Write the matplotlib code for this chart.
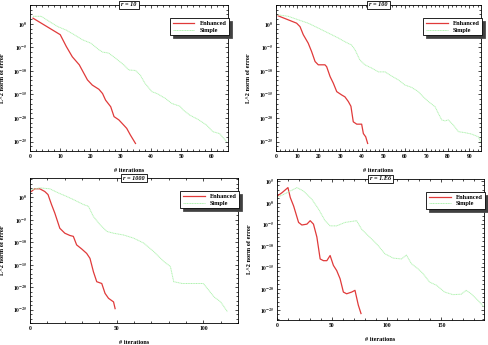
import matplotlib
matplotlib.use('Agg')
import matplotlib.pyplot as plt
import numpy as np

plt.rcParams['font.family'] = ['Liberation Serif', 'DejaVu Serif']
plt.rcParams['font.weight'] = 'bold'
plt.rcParams['mathtext.fontset'] = 'stix'
plt.rcParams['mathtext.default'] = 'bf'

### Data (x = iteration, y = log10 of L^2 error)

titles = ['r = 10', 'r = 100', 'r = 1000', 'r = 1.E6']

enh_x_10 = [1, 6.4, 10, 12, 14, 16.3, 19, 20.6, 22.8, 24, 25, 26.7, 27.8, 29.4, 31, 32, 33.2, 34.9]
enh_y_10 = [1.2, -0.9, -2.3, -4.8, -7, -8.7, -11.9, -13, -13.9, -14.8, -16.2, -17.6, -19.7, -20.4, -21.5, -22.2, -23.6, -25.4]
sim_x_10 = [1, 3.7, 6.4, 9.2, 11.9, 14.6, 17.4, 20.1, 22.8, 24, 26, 28.3, 31, 32.7, 34.9, 36.5, 38, 40.3,
            42, 44.7, 46.9, 49.6, 50.7, 52.9, 55.6, 58.4, 60.5, 62.7, 65]
sim_y_10 = [1.6, 1.6, 0.5, -0.6, -1.3, -2.3, -3.4, -4.1, -5.5, -6, -6.2, -7.3, -8.7, -9.8, -9.9, -10.9, -12.6, -14.4,
            -14.8, -15.8, -16.9, -17.5, -18.3, -19.4, -20.3, -21.5, -22.9, -23.3, -25]

enh_x_100 = [1, 5.7, 9.6, 11.2, 12.7, 15, 16.6, 18.2, 19.7, 22.8, 23.6, 25.2, 26.7, 28.3, 30.6, 32.1, 33.7, 34.9,
             36, 37.6, 39.9, 40.7, 41.8, 42.7]
enh_y_100 = [1.7, 0.85, 0.14, -0.6, -2.3, -4.1, -5.9, -8, -8.7, -8.7, -9.1, -11.2, -12.6, -14.4, -15.1, -15.5,
             -16.5, -17.5, -20.8, -21.3, -21.3, -23.3, -24, -25.4]
sim_x_100 = [1, 5.7, 10.4, 15, 19.7, 22.8, 25.9, 29, 32.1, 35.2, 36.8, 39.1, 41.4, 44.6, 47.7, 50.8, 53.9, 57,
             60.1, 63.2, 66.3, 68.6, 71, 74.1, 75.6, 77.2, 78.7, 80.3, 82.6, 85, 88, 91.1, 94.3, 95.3]
sim_y_100 = [1.9, 1.6, 0.85, 0.14, -0.9, -1.6, -2.3, -3, -3.8, -4.5, -5.5, -7.7, -8.7, -9.4, -10.2, -10.2, -11.1,
             -11.9, -13, -13.5, -14.4, -15.5, -16.5, -17.6, -19, -20.4, -20.6, -20.4, -21.5, -22.9, -23.1, -23.4,
             -24, -25]

enh_x_1000 = [0.8, 2.7, 5.6, 8.5, 10.4, 12.4, 14.3, 17.2, 20.1, 23, 25, 26.9, 29.8, 32.7, 34.6, 36.6, 38.5,
              41.4, 43.3, 45.3, 48.2, 49.1]
enh_y_1000 = [1.3, 1.9, 1.9, 1.3, 0.6, -1.6, -3.5, -6.9, -8, -8.5, -8.7, -10.6, -11.5, -12.5, -13.6, -16.6,
              -18.8, -19.2, -21.4, -22.5, -23.3, -24.8]
sim_x_1000 = [0.8, 5.6, 11.4, 16.2, 21.1, 25, 30.8, 33.7, 36.6, 40.4, 44.3, 48.2, 54, 59.8, 65.6, 71.4, 77.2,
              81, 82.9, 87.8, 94.6, 100, 102.3, 106.2, 110, 113.9]
sim_y_1000 = [1.7, 2.1, 1.9, 1, 0.2, -0.5, -1.6, -2, -4.3, -6.1, -7.6, -8, -8.4, -9.1, -10.2, -12.1, -14.3,
              -15.4, -18.8, -19.2, -19.2, -19.2, -20.3, -22.2, -23.3, -25.5]

enh_x_1e6 = [0, 4.5, 10, 12.1, 15.2, 19.7, 22.7, 27.3, 30.3, 33.3, 36.4, 39.4, 42.4, 45.5, 48.5, 51.5, 54.5,
             57.6, 60.6, 63.6, 68.2, 71.2, 74.2, 76.7]
enh_y_1e6 = [1.5, 2.3, 3.5, 1.2, -0.8, -4.6, -5.2, -5, -4.2, -5, -8, -13.1, -13.5, -13.5, -12.3, -14.6, -15.8,
             -17.7, -20.8, -21.2, -20.8, -20.4, -23.8, -25.8]
sim_x_1e6 = [0, 9.1, 18.2, 24.2, 31.8, 37.9, 43.9, 48.5, 54.5, 62.1, 72.7, 77.3, 83.3, 89.4, 92.4, 98.5, 106.1,
             113.6, 118.2, 122.7, 128.8, 133.3, 139.4, 145.5, 153, 160.6, 168.2, 172.7, 177.3, 183.3, 188.8]
sim_y_1e6 = [1.2, 2.3, 3.5, 2.7, 0.8, -1.5, -4.2, -5.4, -5.4, -4.6, -4.2, -6.2, -7.7, -9.2, -10, -11.9, -12.9,
             -13.1, -12.2, -14.2, -15.4, -16.5, -18.5, -19.2, -20.8, -21.4, -21.3, -20.4, -21.2, -22.7, -24.2]

xlims = [(0, 65.5), (0, 95.5), (0, 120), (0, 189)]
ylims = [(-27, 4), (-27, 4), (-28, 4.3), (-27.3, 5.5)]
xmajor = [10, 10, 50, 50]
xminor = [2, 2, 10, 10]
ymajor = [[0, -5, -10, -15, -20, -25], [0, -5, -10, -15, -20, -25],
          [0, -5, -10, -15, -20, -25], [5, 0, -5, -10, -15, -20, -25]]

# axes rectangles in pixels (left, top, right, bottom)
boxes_px = [(30, 5, 228, 151), (276, 5, 481, 151), (30, 178, 238, 323), (277, 179, 484, 320)]

enh = [(enh_x_10, enh_y_10), (enh_x_100, enh_y_100), (enh_x_1000, enh_y_1000), (enh_x_1e6, enh_y_1e6)]
sim = [(sim_x_10, sim_y_10), (sim_x_100, sim_y_100), (sim_x_1000, sim_y_1000), (sim_x_1e6, sim_y_1e6)]

W, H = 489, 345
fig = plt.figure(figsize=(W / 100, H / 100), dpi=100)

for i in range(4):
    l, t, r, b = boxes_px[i]
    ax = fig.add_axes([l / W, 1 - b / H, (r - l) / W, (b - t) / H])
    ex, ey = enh[i]
    sx, sy = sim[i]
    ax.semilogy(ex, 10.0 ** np.array(ey), color='#e03a3a', lw=0.9, label='Enhanced')
    ax.semilogy(sx, 10.0 ** np.array(sy), color='#b0f2b0', lw=0.7, ls=(0, (1.2, 0.5)), label='Simple')
    ax.set_xlim(*xlims[i])
    ax.set_ylim(10.0 ** ylims[i][0], 10.0 ** ylims[i][1])
    ax.xaxis.set_major_locator(plt.MultipleLocator(xmajor[i]))
    ax.xaxis.set_minor_locator(plt.MultipleLocator(xminor[i]))
    yt = [10.0 ** v for v in ymajor[i]]
    ax.set_yticks(yt)
    ax.set_yticklabels(['$10^{%d}$' % v for v in ymajor[i]])
    lo, hi = int(np.floor(ylims[i][0])), int(np.ceil(ylims[i][1]))
    ax.yaxis.set_minor_locator(plt.FixedLocator([10.0 ** k for k in range(lo, hi + 1)]))
    ax.yaxis.set_minor_formatter(plt.NullFormatter())
    ax.tick_params(which='both', direction='in', top=True, right=True, labelsize=4, width=0.5, pad=2)
    ax.tick_params(which='major', length=2.5)
    ax.tick_params(which='minor', length=1.2)
    for s in ax.spines.values():
        s.set_linewidth(0.6)
    ax.set_xlabel('# iterations', fontsize=4.5, fontweight='bold')
    ax.xaxis.set_label_coords(0.5, -17.0 / (b - t))
    ax.set_ylabel('L^2 norm of error', fontsize=4.5, fontweight='bold')
    ax.yaxis.set_label_coords(-25.0 / (r - l), 0.5)
    ax.text(0.5, 1.0, titles[i], transform=ax.transAxes, ha='center', va='center', fontsize=4.5,
            fontweight='bold', fontstyle='italic',
            bbox=dict(boxstyle='square,pad=0.3', fc='white', ec='black', lw=0.6))
    leg = ax.legend(loc='upper right', bbox_to_anchor=(1.02, 0.93), fontsize=4.5, frameon=True,
                    fancybox=False, shadow={'fc': '0.25', 'alpha': 1.0}, edgecolor='black',
                    handlelength=3.5, borderpad=0.4, labelspacing=0.2, framealpha=1.0)
    leg.get_frame().set_linewidth(0.6)

fig.savefig('out.png', dpi=100)
